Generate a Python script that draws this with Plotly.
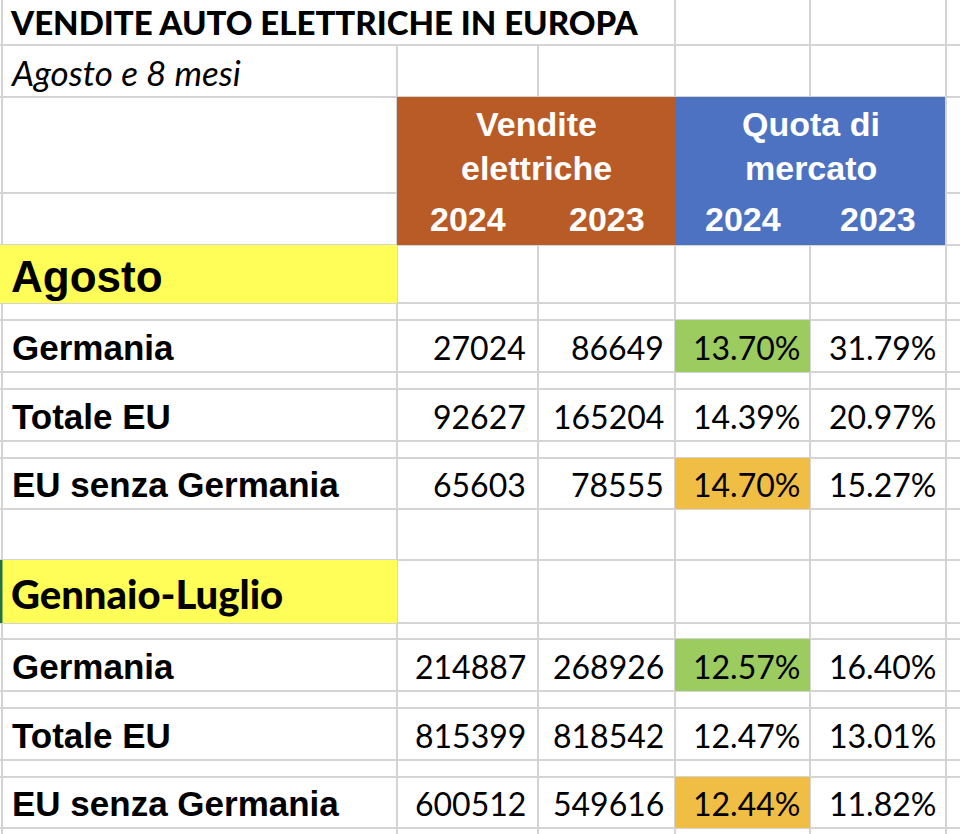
import plotly.graph_objects as go

# --- data -------------------------------------------------------------
title = "VENDITE AUTO ELETTRICHE IN EUROPA"
subtitle = "Agosto e 8 mesi"
sales_header = ["Vendite", "elettriche"]
share_header = ["Quota di", "mercato"]
years = ["2024", "2023"]
periods = ["Agosto", "Gennaio-Luglio"]
regions = ["Germania", "Totale EU", "EU senza Germania"]

aug_sales_2024 = [27024, 92627, 65603]
aug_sales_2023 = [86649, 165204, 78555]
aug_share_2024 = [13.70, 14.39, 14.70]
aug_share_2023 = [31.79, 20.97, 15.27]

jan_jul_sales_2024 = [214887, 815399, 600512]
jan_jul_sales_2023 = [268926, 818542, 549616]
jan_jul_share_2024 = [12.57, 12.47, 12.44]
jan_jul_share_2023 = [16.40, 13.01, 11.82]

# --- sheet geometry (pixels) -----------------------------------------
W, H = 960, 834
col_x = [2, 397, 538, 675, 810, 946]
row_y = [45, 97, 193, 245, 303, 320, 372, 389, 441, 458, 509, 560, 623,
         639, 691, 708, 760, 777, 828]
period_rows = [(245, 303), (560, 623)]
region_rows = [[(320, 372), (389, 441), (458, 509)],
               [(639, 691), (708, 760), (777, 828)]]
header_top, header_bot = 97, 245

GRID = "#D4D4D4"
ORANGE = "#B95B27"
BLUE = "#4E72C2"
YELLOW = "#FFFD58"
GREEN = "#9CCB5F"
GOLD = "#F1BE45"

LABEL_FONT = "Liberation Sans"
NUM_FONT = "Lato"

fig = go.Figure()
shapes = []
annotations = []


def line(x0, y0, x1, y1):
    shapes.append(dict(type="line", x0=x0, y0=y0, x1=x1, y1=y1,
                       line=dict(color=GRID, width=2), layer="below"))


def rect(x0, y0, x1, y1, color):
    shapes.append(dict(type="rect", x0=x0, y0=y0, x1=x1, y1=y1,
                       fillcolor=color, line=dict(width=0), layer="below"))


def text(x, y, s, size, family, color="black", anchor="left",
         weight="normal", style="normal"):
    annotations.append(dict(x=x, y=y, text=s, showarrow=False,
                            xanchor=anchor, yanchor="middle",
                            font=dict(size=size, family=family, color=color,
                                      weight=weight, style=style)))


# gridlines
for y in row_y:
    line(0, y, W, y)
for x in col_x:
    y_start = 45 if x in (397, 538) else 0
    line(x, y_start, x, H)

# coloured cells
rect(col_x[1], header_top, col_x[3], header_bot, ORANGE)
rect(col_x[3], header_top, col_x[5] - 1, header_bot, BLUE)
for top, bot in period_rows:
    rect(0, top, col_x[1], bot, YELLOW)
shapes.append(dict(type="line", x0=1, y0=period_rows[1][0], x1=1,
                   y1=period_rows[1][1], line=dict(color="#217346", width=3)))
rect(col_x[3], region_rows[0][0][0], col_x[4], region_rows[0][0][1], GREEN)
rect(col_x[3], region_rows[0][2][0], col_x[4], region_rows[0][2][1], GOLD)
rect(col_x[3], region_rows[1][0][0], col_x[4], region_rows[1][0][1], GREEN)
rect(col_x[3], region_rows[1][2][0], col_x[4], region_rows[1][2][1], GOLD)

# title block
text(8, 22, title, 33, "Lato", weight=900)
text(8, 72, subtitle, 35, "Lato", style="italic")

# header
for i, s in enumerate(sales_header):
    text((col_x[1] + col_x[3]) / 2, 124 + 44 * i, s, 34, LABEL_FONT,
         color="white", anchor="center", weight="bold")
for i, s in enumerate(share_header):
    text((col_x[3] + col_x[5]) / 2, 124 + 44 * i, s, 34, LABEL_FONT,
         color="white", anchor="center", weight="bold")
for c in range(4):
    text((col_x[c + 1] + col_x[c + 2]) / 2, 219, years[c % 2], 34,
         LABEL_FONT, color="white", anchor="center", weight="bold")

# body
blocks = [
    (aug_sales_2024, aug_sales_2023, aug_share_2024, aug_share_2023),
    (jan_jul_sales_2024, jan_jul_sales_2023, jan_jul_share_2024,
     jan_jul_share_2023),
]
period_style = [(44, LABEL_FONT, "bold"), (40, "Lato", 900)]
for p, period in enumerate(periods):
    top, bot = period_rows[p]
    size, fam, wt = period_style[p]
    text(9, (top + bot) / 2 + 2, period, size, fam, weight=wt)
    s24, s23, q24, q23 = blocks[p]
    for r, region in enumerate(regions):
        top, bot = region_rows[p][r]
        yc = (top + bot) / 2 + 1
        text(10, yc, region, 35, LABEL_FONT, weight="bold")
        text(col_x[2] - 10, yc, str(s24[r]), 32, NUM_FONT, anchor="right")
        text(col_x[3] - 9, yc, str(s23[r]), 32, NUM_FONT, anchor="right")
        text(col_x[4] - 8, yc, f"{q24[r]:.2f}%", 32, NUM_FONT, anchor="right")
        text(col_x[5] - 8, yc, f"{q23[r]:.2f}%", 32, NUM_FONT, anchor="right")

fig.update_layout(
    width=W, height=H,
    margin=dict(l=0, r=0, t=0, b=0),
    paper_bgcolor="white", plot_bgcolor="white",
    xaxis=dict(range=[0, W], visible=False, fixedrange=True),
    yaxis=dict(range=[H, 0], visible=False, fixedrange=True),
    shapes=shapes, annotations=annotations,
    showlegend=False,
)

fig.write_html("out.html", config={"displayModeBar": False},
               post_script="document.body.style.margin='0';")
